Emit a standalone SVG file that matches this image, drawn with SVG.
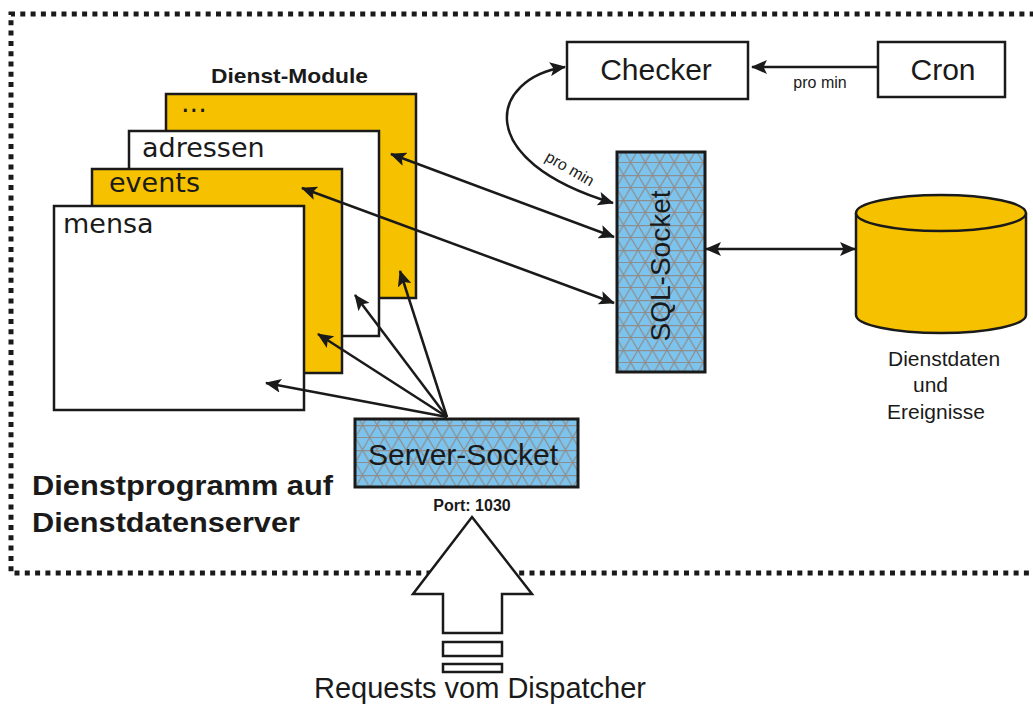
<svg xmlns="http://www.w3.org/2000/svg" width="1033" height="705" viewBox="0 0 1033 705">
  <style>
    .box { stroke: #1a1a1a; stroke-width: 2.5; }
    .yellow { fill: #f6c200; }
    .white { fill: #ffffff; }
    .mod { font-family: "DejaVu Sans", "Liberation Sans", sans-serif; font-size: 27px; fill: #1a1a1a; }
    .lbl { font-family: "Liberation Sans", Arial, sans-serif; fill: #1a1a1a; }
    .bold { font-family: "Liberation Sans", Arial, sans-serif; font-weight: bold; fill: #1a1a1a; }
    .conn { fill: none; stroke: #1a1a1a; stroke-width: 2.5; }
  </style>
  <defs>
    <marker id="head" viewBox="0 0 16 14" refX="15" refY="7" markerWidth="16" markerHeight="14" markerUnits="userSpaceOnUse" orient="auto-start-reverse">
      <path d="M0,0 L16,7 L0,14 L3.5,7 Z" fill="#1a1a1a"/>
    </marker>
    <!-- triangular mesh fill used by the socket blocks -->
    <pattern id="mesh" width="14.5" height="25" patternUnits="userSpaceOnUse">
      <rect width="14.5" height="25" fill="#7cc4ee"/>
      <path d="M0,0 L14.5,25 M14.5,0 L0,25 M0,0.6 H14.5 M0,12.5 H14.5" stroke="#8e8e8e" stroke-width="1.2" fill="none"/>
    </pattern>
  </defs>

  <!-- dotted boundary of the service program -->
  <path d="M1045,14 H11 V573 H1045" fill="none" stroke="#1a1a1a" stroke-width="5" stroke-dasharray="5 5.3"/>

  <g id="title">
    <text class="bold" x="32" y="495" font-size="28" textLength="301" lengthAdjust="spacingAndGlyphs">Dienstprogramm auf</text>
    <text class="bold" x="32" y="532" font-size="28" textLength="268" lengthAdjust="spacingAndGlyphs">Dienstdatenserver</text>
  </g>

  <g id="module-heading">
    <text class="bold" x="211" y="83" font-size="21" textLength="157" lengthAdjust="spacingAndGlyphs">Dienst-Module</text>
  </g>

  <g id="module-more">
    <rect class="box yellow" x="166" y="94" width="250" height="204"/>
    <text class="mod" x="181" y="112">...</text>
  </g>
  <g id="module-adressen">
    <rect class="box white" x="129" y="131" width="250" height="205"/>
    <text class="mod" x="142" y="157">adressen</text>
  </g>
  <g id="module-events">
    <rect class="box yellow" x="92" y="169" width="250" height="204"/>
    <text class="mod" x="109" y="192">events</text>
  </g>
  <g id="module-mensa">
    <rect class="box white" x="54" y="206" width="250" height="204"/>
    <text class="mod" x="63" y="233">mensa</text>
  </g>

  <g id="checker">
    <rect class="box white" x="567" y="42" width="181" height="57"/>
    <text class="lbl" x="656" y="80" font-size="30" text-anchor="middle">Checker</text>
  </g>

  <g id="cron">
    <rect class="box white" x="878" y="42" width="127" height="55"/>
    <text class="lbl" x="943" y="80" font-size="30" text-anchor="middle">Cron</text>
  </g>

  <g id="sql-socket">
    <rect x="617" y="152" width="88" height="220" fill="url(#mesh)" stroke="#1a1a1a" stroke-width="3"/>
    <text class="lbl" font-size="28" text-anchor="middle" transform="translate(670,266) rotate(-90)">SQL-Socket</text>
  </g>

  <g id="server-socket">
    <rect x="355" y="419" width="223" height="68" fill="url(#mesh)" stroke="#1a1a1a" stroke-width="3"/>
    <text class="lbl" x="463" y="465" font-size="30" text-anchor="middle">Server-Socket</text>
    <text class="bold" x="472" y="511" font-size="16" text-anchor="middle">Port: 1030</text>
  </g>

  <g id="database">
    <path d="M856,213 V315 A85,18 0 0 0 1026,315 V213" fill="#f6c200" stroke="#1a1a1a" stroke-width="2.5"/>
    <ellipse cx="941" cy="213" rx="85" ry="18" fill="#f6c200" stroke="#1a1a1a" stroke-width="2.5"/>
    <text class="lbl" x="888" y="366" font-size="21">Dienstdaten</text>
    <text class="lbl" x="913" y="392" font-size="21">und</text>
    <text class="lbl" x="887" y="419" font-size="21">Ereignisse</text>
  </g>

  <g id="dispatcher">
    <path d="M472,517 L532,594 H502 V633 H443 V594 H413 Z" fill="#ffffff" stroke="#1a1a1a" stroke-width="2.5"/>
    <rect x="443" y="642" width="59" height="14" fill="#ffffff" stroke="#1a1a1a" stroke-width="2.5"/>
    <rect x="443" y="664" width="59" height="8" fill="#ffffff" stroke="#1a1a1a" stroke-width="2.5"/>
    <text class="lbl" x="480" y="698" font-size="29" text-anchor="middle">Requests vom Dispatcher</text>
  </g>

  <g id="connectors">
    <!-- Cron triggers Checker -->
    <line class="conn" x1="878" y1="67" x2="752" y2="67" marker-end="url(#head)"/>
    <text class="lbl" x="820" y="88" font-size="16" text-anchor="middle">pro min</text>
    <!-- Checker <-> SQL-Socket -->
    <path class="conn" d="M613,203 C470,160 490,78 565,67" marker-start="url(#head)" marker-end="url(#head)"/>
    <text class="lbl" font-size="16" transform="translate(544,160) rotate(30)">pro min</text>
    <!-- modules <-> SQL-Socket -->
    <line class="conn" x1="391" y1="154" x2="614" y2="237" marker-start="url(#head)" marker-end="url(#head)"/>
    <line class="conn" x1="302" y1="188" x2="614" y2="303" marker-start="url(#head)" marker-end="url(#head)"/>
    <!-- SQL-Socket <-> database -->
    <line class="conn" x1="706" y1="249" x2="855" y2="249" marker-start="url(#head)" marker-end="url(#head)"/>
    <!-- Server-Socket dispatches to modules -->
    <line class="conn" x1="447" y1="417" x2="400" y2="271" marker-end="url(#head)"/>
    <line class="conn" x1="447" y1="417" x2="355" y2="295" marker-end="url(#head)"/>
    <line class="conn" x1="447" y1="417" x2="318" y2="334" marker-end="url(#head)"/>
    <line class="conn" x1="447" y1="417" x2="266" y2="383" marker-end="url(#head)"/>
  </g>
</svg>
